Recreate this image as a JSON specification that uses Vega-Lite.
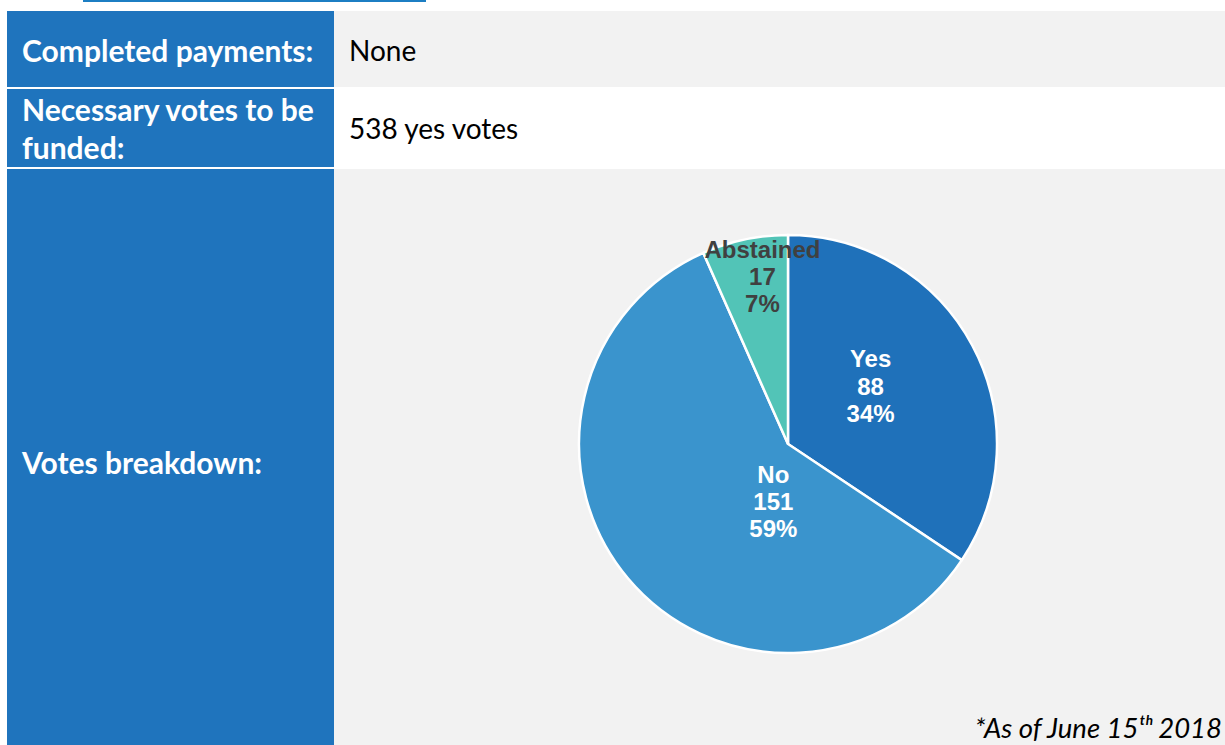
{
  "$schema": "https://vega.github.io/schema/vega-lite/v6.json",
  "padding": {"left": 7, "top": 0, "right": 0, "bottom": 0},
  "autosize": {"type": "pad"},
  "background": "white",
  "config": {"view": {"stroke": null}},
  "spacing": 9,
  "vconcat": [
    {
      "spacing": 0,
      "hconcat": [
        {"width": 76, "height": 2, "data": {"values": []}, "mark": {"type": "text"}, "encoding": {}},
        {"width": 343, "height": 2, "view": {"fill": "#1C7EC3"}, "data": {"values": []}, "mark": {"type": "text"}, "encoding": {}}
      ]
    },
    {
      "spacing": 2,
      "vconcat": [
        {
          "spacing": 0,
          "hconcat": [
            {
              "width": 327, "height": 76, "view": {"fill": "#1F74BD"},
              "data": {"values": [{"label": "Completed payments:"}]},
              "mark": {"type": "text", "align": "left", "baseline": "middle", "font": "Lato", "fontWeight": "bold", "fontSize": 30, "color": "white", "dy": 4},
              "encoding": {"x": {"value": 15}, "text": {"field": "label"}}
            },
            {
              "width": 891, "height": 76, "view": {"fill": "#F2F2F2"},
              "data": {"values": [{"value": "None"}]},
              "mark": {"type": "text", "align": "left", "baseline": "middle", "font": "Lato", "fontSize": 28, "color": "black", "dy": 4},
              "encoding": {"x": {"value": 15}, "text": {"field": "value"}}
            }
          ]
        },
        {
          "spacing": 0,
          "hconcat": [
            {
              "width": 327, "height": 78, "view": {"fill": "#1F74BD"},
              "data": {"values": [{"label": "Necessary votes to be\nfunded:"}]},
              "mark": {"type": "text", "align": "left", "baseline": "middle", "font": "Lato", "fontWeight": "bold", "fontSize": 30, "color": "white", "lineBreak": "\n", "lineHeight": 38, "dy": -16},
              "encoding": {"x": {"value": 15}, "text": {"field": "label"}}
            },
            {
              "width": 891, "height": 78, "view": {"fill": "white"},
              "data": {"values": [{"value": "538 yes votes"}]},
              "mark": {"type": "text", "align": "left", "baseline": "middle", "font": "Lato", "fontSize": 28, "color": "black", "dy": 3},
              "encoding": {"x": {"value": 15}, "text": {"field": "value"}}
            }
          ]
        },
        {
          "spacing": 0,
          "hconcat": [
            {
              "width": 327, "height": 584, "view": {"fill": "#1F74BD"},
              "data": {"values": [{"label": "Votes breakdown:"}]},
              "mark": {"type": "text", "align": "left", "baseline": "middle", "font": "Lato", "fontWeight": "bold", "fontSize": 30, "color": "white", "dy": 4},
              "encoding": {"x": {"value": 15}, "text": {"field": "label"}}
            },
            {
              "width": 891, "height": 584, "view": {"fill": "#F2F2F2"},
              "data": {"values": [
                {"category": "Yes", "votes": 88},
                {"category": "No", "votes": 151},
                {"category": "Abstained", "votes": 17}
              ]},
              "transform": [
                {"stack": "votes", "groupby": [], "sort": [{"field": "category", "order": "descending"}], "as": ["v0", "v1"]},
                {"joinaggregate": [{"op": "sum", "field": "votes", "as": "total"}]},
                {"calculate": "(datum.v0 + datum.v1) / 2", "as": "mid"},
                {"calculate": "datum.category + '\\n' + datum.votes + '\\n' + format(datum.votes / datum.total, '.0%')", "as": "label"}
              ],
              "layer": [
                {
                  "mark": {"type": "arc", "outerRadius": 209, "stroke": "white", "strokeWidth": 2.5, "xOffset": 8.5, "yOffset": -17},
                  "encoding": {
                    "theta": {"field": "v0", "type": "quantitative", "scale": {"domain": [0, 256]}},
                    "theta2": {"field": "v1"},
                    "color": {"field": "category", "type": "nominal", "legend": null,
                      "scale": {"domain": ["Yes", "No", "Abstained"], "range": ["#1F71BA", "#3A94CD", "#52C4B7"]}}
                  }
                },
                {
                  "transform": [{"filter": "datum.category === 'Yes'"}],
                  "mark": {"type": "text", "font": "Liberation Sans", "fontWeight": "bold", "fontSize": 24, "lineBreak": "\n", "lineHeight": 27.3, "baseline": "middle", "align": "center", "xOffset": 8.5, "yOffset": -17, "dy": -27.3, "radius": 100, "thetaOffset": -0.108, "color": "white"},
                  "encoding": {
                    "theta": {"field": "mid", "type": "quantitative"},
                    "text": {"field": "label"}
                  }
                },
                {
                  "transform": [{"filter": "datum.category === 'No'"}],
                  "mark": {"type": "text", "font": "Liberation Sans", "fontWeight": "bold", "fontSize": 24, "lineBreak": "\n", "lineHeight": 27.3, "baseline": "middle", "align": "center", "xOffset": 8.5, "yOffset": -17, "dy": -27.3, "radius": 61, "thetaOffset": -0.628, "color": "white"},
                  "encoding": {
                    "theta": {"field": "mid", "type": "quantitative"},
                    "text": {"field": "label"}
                  }
                },
                {
                  "transform": [{"filter": "datum.category === 'Abstained'"}],
                  "mark": {"type": "text", "font": "Liberation Sans", "fontWeight": "bold", "fontSize": 24, "lineBreak": "\n", "lineHeight": 27.3, "baseline": "middle", "align": "center", "xOffset": 8.5, "yOffset": -17, "dy": -27.3, "radius": 168, "thetaOffset": 0.056, "color": "#404040"},
                  "encoding": {
                    "theta": {"field": "mid", "type": "quantitative"},
                    "text": {"field": "label"}
                  }
                },
                {
                  "data": {"values": [{"note": "*As of June 15ᵗʰ 2018"}]},
                  "transform": [],
                  "mark": {"type": "text", "align": "right", "baseline": "alphabetic", "font": "Lato", "fontStyle": "italic", "fontSize": 27.5, "color": "black"},
                  "encoding": {"x": {"value": 888}, "y": {"value": 569}, "text": {"field": "note"}}
                }
              ]
            }
          ]
        }
      ]
    }
  ]
}
